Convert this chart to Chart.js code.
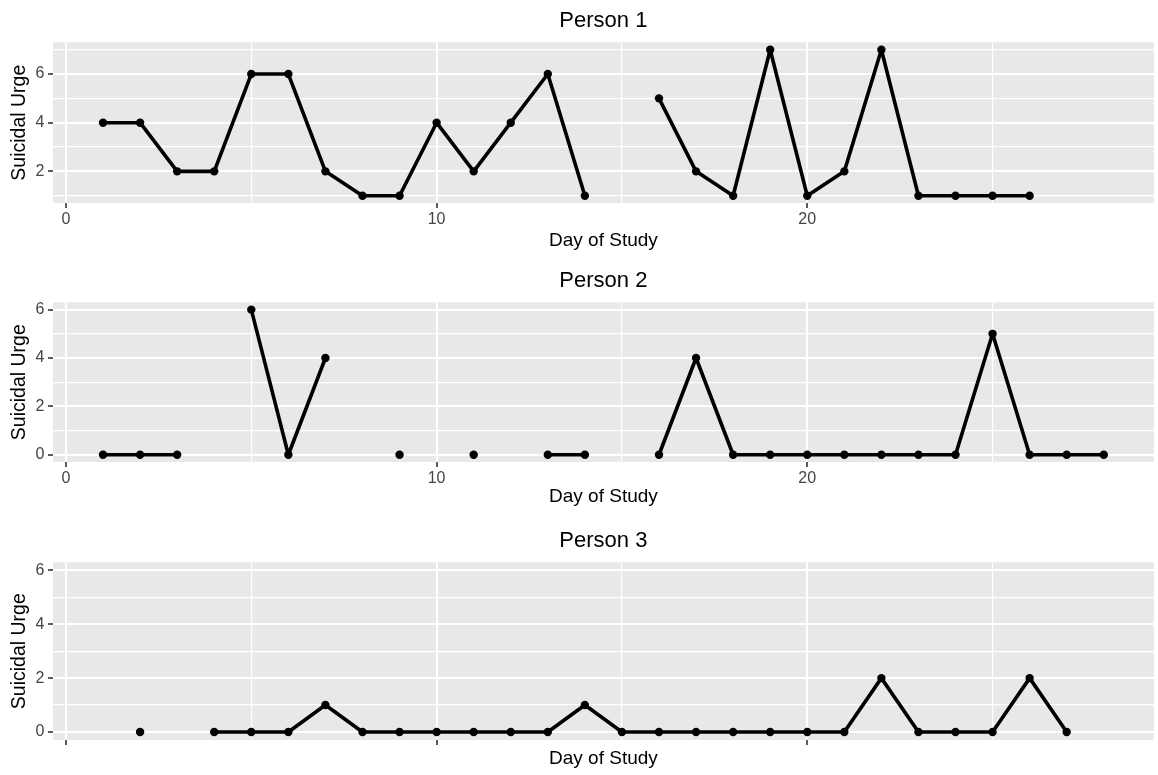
<!DOCTYPE html>
<html>
<head>
<meta charset="utf-8">
<script src="https://cdn.jsdelivr.net/npm/chart.js@4.4.0/dist/chart.umd.min.js"></script>
<style>
body { margin: 0; background: #fff; }
canvas { position: absolute; left: 0; }
</style>
</head>
<body>
<canvas id="person1" width="1158" height="260" style="top:0px"></canvas>
<canvas id="person2" width="1158" height="258" style="top:260px"></canvas>
<canvas id="person3" width="1158" height="255" style="top:520px"></canvas>
<script>
// Datos
const days = [1, 2, 3, 4, 5, 6, 7, 8, 9, 10, 11, 12, 13, 14, 15, 16, 17, 18, 19, 20, 21, 22, 23, 24, 25, 26, 27, 28];
const person1 = [4, 4, 2, 2, 6, 6, 2, 1, 1, 4, 2, 4, 6, 1, null, 5, 2, 1, 7, 1, 2, 7, 1, 1, 1, 1, null, null];
const person2 = [0, 0, 0, null, 6, 0, 4, null, 0, null, 0, null, 0, 0, null, 0, 4, 0, 0, 0, 0, 0, 0, 0, 5, 0, 0, 0];
const person3 = [null, 0, null, 0, 0, 0, 1, 0, 0, 0, 0, 0, 0, 1, 0, 0, 0, 0, 0, 0, 0, 2, 0, 0, 0, 2, 0, null];

// Ejes
const xGrid = [0, 5, 10, 15, 20, 25];
const xLabels = [0, 10, 20];
const yGrid1 = [1, 2, 3, 4, 5, 6, 7];
const yLabels1 = [2, 4, 6];
const yGrid23 = [0, 1, 2, 3, 4, 5, 6];
const yLabels23 = [0, 2, 4, 6];

Chart.defaults.font.family = "'Liberation Sans', Arial, sans-serif";

const panelBg = {
    id: 'panelBg',
    beforeDraw(chart) {
        const { ctx, chartArea: a } = chart;
        ctx.save();
        ctx.fillStyle = '#e8e8e8';
        ctx.fillRect(a.left, a.top, a.width, a.height);
        ctx.restore();
    }
};

function makeChart(id, title, values, yGrid, yLabels, yMin, yMax, showXLabels, xAxisHeight, xTitlePad) {
    return new Chart(document.getElementById(id), {
        type: 'line',
        data: {
            datasets: [{
                data: days.map((d, i) => ({ x: d, y: values[i] })),
                borderColor: '#000',
                borderWidth: 3.6,
                borderJoinStyle: 'round',
                borderCapStyle: 'round',
                pointRadius: 4.2,
                pointBackgroundColor: '#000',
                pointBorderWidth: 0,
                tension: 0,
                spanGaps: false
            }]
        },
        options: {
            responsive: false,
            animation: false,
            events: [],
            layout: { padding: { left: 0, right: 1, top: 0, bottom: 0 } },
            plugins: {
                legend: { display: false },
                tooltip: { enabled: false },
                title: {
                    display: true,
                    text: title,
                    fullSize: false,
                    color: '#000',
                    font: { size: 22, weight: 'normal' },
                    padding: { top: 7.5, bottom: 8.5 }
                }
            },
            scales: {
                x: {
                    type: 'linear',
                    min: -0.35,
                    max: 29.35,
                    afterBuildTicks: axis => { axis.ticks = xGrid.map(v => ({ value: v })); },
                    afterFit: scale => { scale.height = xAxisHeight; },
                    border: { display: false },
                    grid: {
                        color: '#fff',
                        lineWidth: ctx => xLabels.includes(ctx.tick.value) ? 2 : 1.2,
                        tickColor: ctx => xLabels.includes(ctx.tick.value) ? '#333' : 'rgba(0,0,0,0)',
                        tickWidth: 1.6,
                        tickLength: 5
                    },
                    ticks: {
                        autoSkip: false,
                        maxRotation: 0,
                        padding: 2,
                        color: '#444',
                        font: { size: 16 },
                        callback: v => (showXLabels && xLabels.includes(v)) ? String(v) : ''
                    },
                    title: {
                        display: true,
                        text: 'Day of Study',
                        color: '#000',
                        font: { size: 19 },
                        padding: { top: 0, bottom: xTitlePad }
                    }
                },
                y: {
                    type: 'linear',
                    min: yMin,
                    max: yMax,
                    afterBuildTicks: axis => { axis.ticks = yGrid.map(v => ({ value: v })); },
                    afterFit: scale => { scale.width = 53; },
                    border: { display: false },
                    grid: {
                        color: '#fff',
                        lineWidth: ctx => yLabels.includes(ctx.tick.value) ? 2 : 1.2,
                        tickColor: ctx => yLabels.includes(ctx.tick.value) ? '#333' : 'rgba(0,0,0,0)',
                        tickWidth: 1.6,
                        tickLength: 5
                    },
                    ticks: {
                        autoSkip: false,
                        padding: 3.5,
                        color: '#444',
                        font: { size: 16 },
                        callback: v => yLabels.includes(v) ? String(v) : ''
                    },
                    title: {
                        display: true,
                        text: 'Suicidal Urge',
                        color: '#000',
                        font: { size: 19.5 },
                        padding: { top: 7.5, bottom: 0 }
                    }
                }
            }
        },
        plugins: [panelBg]
    });
}

makeChart('person1', 'Person 1', person1, yGrid1, yLabels1, 0.7, 7.3, true, 57, 7.6);
makeChart('person2', 'Person 2', person2, yGrid23, yLabels23, -0.3, 6.3, true, 56, 9.6);
makeChart('person3', 'Person 3', person3, yGrid23, yLabels23, -0.3, 6.3, false, 35, 4.6);
</script>
</body>
</html>
